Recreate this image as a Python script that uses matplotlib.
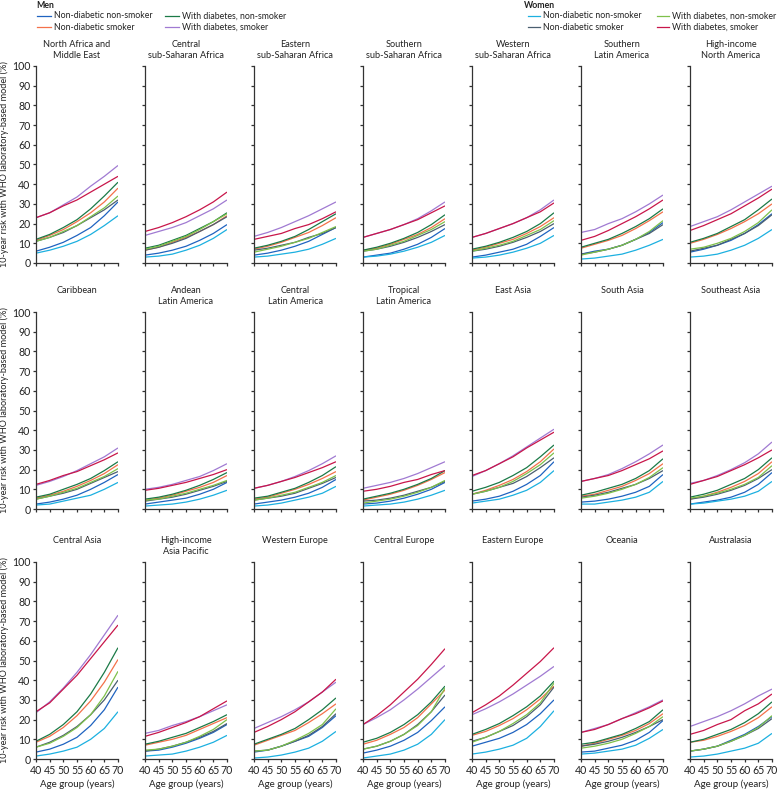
import matplotlib
matplotlib.use("Agg")
import matplotlib.pyplot as plt
from matplotlib.lines import Line2D

plt.rcParams["font.family"] = ["Lato", "DejaVu Sans"]

ages = [40, 45, 50, 55, 60, 65, 70]

regions = [
    "North Africa and\nMiddle East", "Central\nsub-Saharan Africa",
    "Eastern\nsub-Saharan Africa", "Southern\nsub-Saharan Africa",
    "Western\nsub-Saharan Africa", "Southern\nLatin America",
    "High-income\nNorth America",
    "Caribbean", "Andean\nLatin America", "Central\nLatin America",
    "Tropical\nLatin America", "East Asia", "South Asia", "Southeast Asia",
    "Central Asia", "High-income\nAsia Pacific", "Western Europe",
    "Central Europe", "Eastern Europe", "Oceania", "Australasia",
]

# men, non-diabetic non-smoker
men_nn = [
    [6, 8, 10.5, 14, 18, 24, 31], [4, 5, 6.5, 8.5, 11.5, 15, 19.5],
    [4, 5, 6.5, 8.5, 11, 14.5, 18], [3, 4, 5, 7, 9.5, 13, 17.5],
    [3, 4, 5.5, 7, 9.5, 13.5, 18], [4.5, 6, 7, 9, 12, 15.5, 20.5],
    [5.5, 7, 9, 11.5, 15, 19.5, 25],
    [2.5, 3.5, 5, 7, 10, 13.5, 17.5], [2.5, 3.5, 4.5, 5.5, 7.5, 10, 13.5],
    [2.5, 3.5, 4.5, 6, 8, 11, 15], [2.5, 3, 4, 5.5, 7.5, 10, 13.5],
    [4, 5, 6.5, 9, 12.5, 17, 24], [3.5, 4, 5, 6.5, 8.5, 11.5, 17.5],
    [2.5, 3.5, 4.5, 6, 8.5, 12.5, 18.5],
    [3.5, 5, 7.5, 11, 17, 25, 36.5], [4, 4.5, 6, 8, 10.5, 13.5, 17.5],
    [3.5, 4.5, 6.5, 9, 11.5, 16, 22], [3, 4.5, 6.5, 9.5, 13.5, 19.5, 26.5],
    [6.5, 8.5, 10.5, 13.5, 17.5, 23, 30], [3.5, 4, 5.5, 7, 9.5, 13.5, 19.5],
    [4, 5, 6.5, 9.5, 12.5, 16.5, 21.5],
]
# men, non-diabetic smoker
men_ns = [
    [11.5, 14, 17, 21, 25.5, 31, 38], [6.5, 8, 10.5, 13, 16, 19.5, 24],
    [7, 8.5, 10.5, 13, 15.5, 19, 23], [6.5, 7.5, 9.5, 12, 14.5, 18, 22.5],
    [6.5, 8, 10, 12, 15, 18.5, 23], [7.5, 9.5, 11.5, 14, 17.5, 21.5, 26],
    [10, 12, 14.5, 17.5, 21, 25, 30],
    [5.5, 7, 9, 11.5, 14.5, 18, 22.5], [4.5, 5.5, 7, 9, 11, 13.5, 17],
    [5, 6, 8, 10, 12.5, 15.5, 19], [4.5, 6, 7.5, 9.5, 12, 15, 18.5],
    [7.5, 9.5, 12, 15, 19, 24, 30.5], [6.5, 7.5, 9.5, 11.5, 14.5, 18, 23],
    [5, 6.5, 8.5, 11, 14, 18, 24],
    [8.5, 11.5, 16, 22, 29.5, 39, 50.5], [7, 8.5, 10, 12, 15, 18, 21],
    [7, 9.5, 12, 14.5, 18.5, 23, 28], [7.5, 9.5, 12.5, 16, 21, 28, 35],
    [12, 14, 17, 20.5, 25, 30.5, 37], [6.5, 8, 10, 12, 14.5, 18, 23],
    [8.5, 9.5, 11.5, 14, 17, 21, 26.5],
]
# men, with diabetes non-smoker
men_dn = [
    [12, 14.5, 18, 22, 27.5, 34, 41], [7.5, 9, 11.5, 14, 17.5, 21, 25.5],
    [7.5, 9, 11, 13.5, 17, 21, 25], [6.5, 8, 10, 12.5, 15.5, 19.5, 24.5],
    [7, 8.5, 10.5, 13, 16, 20, 25.5], [8, 10, 12, 15, 18.5, 22.5, 27.5],
    [10.5, 12.5, 15, 18.5, 22, 27, 32.5],
    [6, 7.5, 10, 12.5, 15.5, 19.5, 24], [5, 6, 7.5, 9.5, 12, 15, 18.5],
    [5.5, 6.5, 8.5, 10.5, 13.5, 17, 21.5], [5, 6.5, 8, 10, 12.5, 15.5, 19.5],
    [9, 11, 13.5, 17, 21, 26.5, 32.5], [7, 8.5, 10.5, 12.5, 15.5, 19.5, 25.5],
    [6, 7.5, 9.5, 12.5, 15.5, 20, 26],
    [9, 12.5, 17.5, 24, 33, 44, 56.5], [7.5, 9, 11, 13, 16, 19, 22.5],
    [7.5, 10, 12.5, 15.5, 20, 25, 31], [8.5, 10.5, 13.5, 17.5, 22.5, 29, 37],
    [12.5, 15, 18, 22, 26.5, 32, 39.5], [7.5, 8.5, 10.5, 12.5, 15.5, 19, 25],
    [8.5, 10, 12.5, 15, 18.5, 23, 29],
]
# men, with diabetes smoker
men_ds = [
    [23, 25.5, 29.5, 33.5, 39, 44, 49.5], [14, 16, 18, 20.5, 24, 27.5, 32],
    [13.5, 15.5, 18, 21, 24, 27.5, 31], [13, 15, 17, 19.5, 22.5, 26.5, 31],
    [13, 15, 17.5, 20, 23, 27, 32], [15.5, 17, 20, 22.5, 26, 30, 34.5],
    [18.5, 21, 23.5, 27, 31, 35, 39],
    [12, 14, 16.5, 19.5, 23, 26.5, 31], [10, 11, 12.5, 14.5, 16.5, 19.5, 23],
    [10.5, 12, 14, 16.5, 19.5, 23, 27], [10.5, 12, 13.5, 15.5, 18, 21, 24],
    [16.5, 19.5, 23, 27, 31.5, 36, 40.5], [14, 15.5, 17.5, 20.5, 24, 28, 32.5],
    [13, 14.5, 17, 20, 23.5, 28, 34],
    [23.5, 29, 36, 44, 53, 63, 73], [13, 14.5, 17, 19, 21.5, 24.5, 27.5],
    [15.5, 18.5, 21.5, 25, 29, 34, 39], [17.5, 21, 25, 30, 35.5, 41.5, 47.5],
    [22.5, 25.5, 29, 33, 37.5, 42, 47], [13.5, 15.5, 17.5, 20.5, 23.5, 26.5, 30],
    [16.5, 19, 21.5, 24.5, 28, 32, 35.5],
]
# women, non-diabetic non-smoker
women_nn = [
    [5, 6.5, 8.5, 11, 14.5, 19, 24], [3, 3.5, 4.5, 6.5, 9, 12.5, 17],
    [3, 3.5, 4.5, 5.5, 7, 9.5, 12.5], [3, 3.5, 4.5, 6, 8, 10.5, 14],
    [2.5, 3, 4, 5.5, 7.5, 10, 14], [2, 2.5, 3.5, 4.5, 6.5, 9, 12],
    [3, 3.5, 4.5, 6.5, 9, 12.5, 17],
    [2, 2.5, 4, 5.5, 7, 10, 13.5], [1.5, 2, 2.5, 3.5, 5, 7, 9.5],
    [1.5, 2, 3, 4.5, 6, 8, 11.5], [1.5, 2, 2.5, 3.5, 5, 7, 9.5],
    [3, 4, 5, 7, 9.5, 13.5, 19.5], [2.5, 2.5, 3.5, 4.5, 6, 8.5, 14],
    [2.5, 3, 4, 5, 6.5, 9, 14],
    [1.5, 2.5, 4, 6, 10, 15.5, 24], [1.5, 2, 2.5, 4, 6, 8.5, 12],
    [0.5, 1, 2, 3.5, 5.5, 9, 14], [0.5, 1.5, 2.5, 4.5, 7.5, 12.5, 20],
    [2.5, 3.5, 5, 7, 10.5, 16.5, 24.5], [2.5, 3, 4, 5, 7, 10.5, 15],
    [1, 1.5, 2.5, 4, 5.5, 8, 13],
]
# women, non-diabetic smoker
women_ns = [
    [11, 13, 15.5, 19, 23, 27, 32], [6.5, 8, 10, 12.5, 16, 19.5, 23.5],
    [6.5, 7.5, 9, 10.5, 13, 15, 18], [6, 7, 8.5, 10.5, 13, 16, 19.5],
    [6, 7, 8.5, 10.5, 13, 16, 20], [4.5, 5.5, 7, 9, 12, 15, 19.5],
    [6, 7.5, 9, 12, 15, 19, 24.5],
    [5, 6.5, 8, 10, 13, 16, 19], [4, 5, 6, 7.5, 9.5, 11.5, 14],
    [4.5, 5.5, 6.5, 8, 10.5, 13, 16], [4, 4.5, 5.5, 7, 9, 11, 14],
    [7.5, 9, 11, 13, 16.5, 21, 26], [6, 7, 8.5, 10.5, 12.5, 15.5, 19.5],
    [5, 6, 7.5, 9.5, 12, 15.5, 20],
    [6, 8.5, 12, 16.5, 22.5, 30, 40], [4, 5, 6.5, 8.5, 11, 14, 18],
    [4, 4.5, 6.5, 9, 12, 16.5, 23], [5, 6.5, 9, 12.5, 17.5, 24, 32.5],
    [9, 11, 14, 17, 21.5, 27.5, 36.5], [6.5, 7.5, 9, 11, 13.5, 16.5, 20],
    [4, 5, 6.5, 9, 12, 15.5, 20.5],
]
# women, with diabetes non-smoker
women_dn = [
    [11, 13, 16, 19, 23.5, 28, 34], [7, 8.5, 11, 13.5, 17, 21, 25],
    [5.5, 7, 8.5, 10.5, 12.5, 15.5, 18.5], [6, 7, 9, 11, 14, 17, 21],
    [6, 7.5, 9, 11, 14, 17, 21.5], [4, 5.5, 7, 9, 12, 16, 21.5],
    [7, 8, 10, 12.5, 16, 20.5, 27],
    [5, 6.5, 8.5, 10.5, 13.5, 16.5, 20.5], [4.5, 5, 6.5, 8, 10, 12, 14.5],
    [4.5, 5.5, 7, 8.5, 11, 13.5, 17], [3, 4, 5, 6.5, 8.5, 11, 14.5],
    [7.5, 9, 11, 14, 18, 22.5, 28.5], [5.5, 6.5, 8, 10, 12.5, 16, 21],
    [5.5, 6.5, 8, 10, 12.5, 16, 22],
    [6, 8, 11.5, 16, 22.5, 32, 44.5], [4.5, 5, 6.5, 8.5, 11.5, 15, 20],
    [4, 4.5, 6.5, 9.5, 13, 17.5, 25.5], [5, 6.5, 9, 12.5, 17, 24, 36],
    [8.5, 11, 14, 18, 22.5, 28.5, 38.5], [5.5, 6.5, 8, 10, 13, 16.5, 21.5],
    [4, 5, 6.5, 9, 12, 16, 22],
]
# women, with diabetes smoker
women_ds = [
    [23, 25.5, 29, 32, 36, 40, 44], [16, 18, 20.5, 23.5, 27, 31, 36],
    [12, 13.5, 15, 17.5, 19.5, 22.5, 26], [13, 15, 17, 19.5, 22, 25.5, 29],
    [13, 15, 17.5, 20, 23, 26, 30.5], [11.5, 13.5, 16.5, 20, 23.5, 27.5, 32],
    [16.5, 19, 22, 25, 29, 33, 37.5],
    [12.5, 14.5, 17, 19, 22, 25, 28.5], [9.5, 10.5, 12, 13.5, 15.5, 17.5, 20],
    [10.5, 12, 14, 16, 18.5, 21, 24], [9, 10, 11.5, 13.5, 15, 17.5, 19.5],
    [17, 19.5, 23, 26.5, 31, 35, 39], [14, 15.5, 17, 19.5, 22.5, 25.5, 29.5],
    [12.5, 14.5, 16.5, 19.5, 22.5, 26, 30],
    [24, 28.5, 35.5, 42.5, 51, 59.5, 68], [11.5, 13.5, 16, 18.5, 21.5, 25.5, 29.5],
    [13.5, 16.5, 20, 24, 29, 34, 40.5], [17.5, 22, 27.5, 34, 40.5, 48, 56],
    [23.5, 27.5, 32, 37.5, 43.5, 49.5, 56.5], [13.5, 15, 17.5, 20.5, 23, 26, 29.5],
    [12.5, 14.5, 17.5, 20, 24.5, 28, 33],
]

series = [
    (men_nn, "#1f63c0"), (men_ns, "#f4714a"), (men_dn, "#1b7a47"),
    (men_ds, "#a07ad2"), (women_nn, "#1cb0e0"), (women_ns, "#4a5f70"),
    (women_dn, "#7ec04a"), (women_ds, "#c8164a"),
]
legend_labels = ["Non-diabetic non-smoker", "Non-diabetic smoker",
                 "With diabetes, non-smoker", "With diabetes, smoker"]

W, H = 777, 789
fig = plt.figure(figsize=(W / 100, H / 100), dpi=100)

col_left = [36 + 109 * i for i in range(7)]
row_top = [66, 312, 562]
ax_w, ax_h = 82, 197
ink = "#333333"
fs = 6.6

for k, name in enumerate(regions):
    r, c = divmod(k, 7)
    ax = fig.add_axes([col_left[c] / W, 1 - (row_top[r] + ax_h) / H,
                       ax_w / W, ax_h / H])
    for data, color in series:
        ax.plot(ages, data[k], color=color, lw=0.9, solid_capstyle="butt")
    ax.set_xlim(40, 70)
    ax.set_ylim(0, 100)
    ax.set_xticks(ages)
    ax.set_yticks(range(0, 101, 10))
    for s in ("top", "right"):
        ax.spines[s].set_visible(False)
    for s in ("left", "bottom"):
        ax.spines[s].set_color(ink)
        ax.spines[s].set_linewidth(0.9)
    ax.tick_params(length=2.5, width=0.9, color=ink, labelsize=fs + 1,
                   labelcolor="#222222", pad=1.5)
    if c > 0:
        ax.tick_params(labelleft=False)
    else:
        ax.set_ylabel("10-year risk with WHO laboratory-based model (%)",
                      fontsize=fs, color="#222222", labelpad=2)
    if r < 2:
        ax.tick_params(labelbottom=False)
    else:
        ax.set_xlabel("Age group (years)", fontsize=fs + 0.4,
                      color="#222222", labelpad=3)
    ax.annotate(name, xy=(0.5, 1), xycoords="axes fraction",
                xytext=(0, 19), textcoords="offset points",
                ha="center", va="top", fontsize=fs, color="#222222",
                linespacing=1.3)

# legend block drawn by hand, men on the left, women on the right
leg_fs = 6.3


def legend_entry(x0, x1, y, color, text):
    fig.add_artist(Line2D([x0 / W, x1 / W], [1 - y / H, 1 - y / H],
                          color=color, lw=0.9))
    fig.text((x1 + 3) / W, 1 - y / H, text, fontsize=leg_fs, va="center",
             color="#222222")


fig.text(36 / W, 1 - 5 / H, "Men", fontsize=leg_fs, fontweight="bold",
         va="center", color="#222222")
legend_entry(37, 51, 16, series[0][1], legend_labels[0])
legend_entry(37, 51, 27, series[1][1], legend_labels[1])
legend_entry(165, 179, 16, series[2][1], legend_labels[2])
legend_entry(165, 179, 27, series[3][1], legend_labels[3])

fig.text(524 / W, 1 - 5 / H, "Women", fontsize=leg_fs, fontweight="bold",
         va="center", color="#222222")
legend_entry(528, 540, 16, series[4][1], legend_labels[0])
legend_entry(528, 540, 27, series[5][1], legend_labels[1])
legend_entry(657, 669, 16, series[6][1], legend_labels[2])
legend_entry(657, 669, 27, series[7][1], legend_labels[3])

fig.savefig("out.png", dpi=100)
